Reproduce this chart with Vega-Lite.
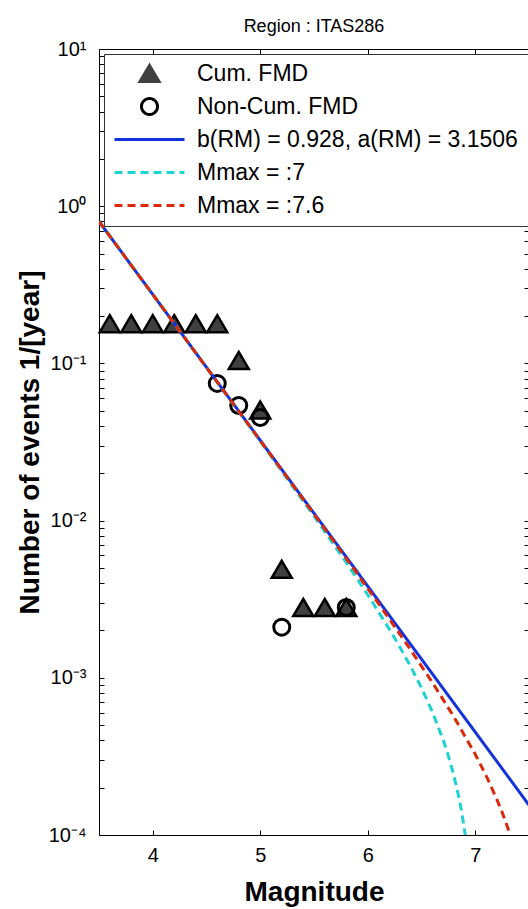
{
  "$schema": "https://vega.github.io/schema/vega-lite/v6.json",
  "width": 430,
  "height": 786,
  "autosize": {"type": "none"},
  "padding": {"left": 99, "top": 49, "right": 0, "bottom": 74},
  "background": "white",
  "title": {"text": "Region : ITAS286", "fontSize": 18, "font": "Liberation Sans", "fontWeight": "normal", "color": "black", "offset": 3, "anchor": "middle"},
  "config": {
    "font": "Liberation Sans",
    "view": {"stroke": "black", "strokeWidth": 1},
    "axis": {"domain": false, "grid": false, "tickColor": "black", "labelColor": "black", "titleColor": "black", "labelFont": "Liberation Sans", "labelFontSize": 20, "titleFont": "Liberation Sans", "titleFontSize": 28, "titleFontWeight": "bold", "tickSize": -5, "tickWidth": 1}
  },
  "datasets": {
    "cum": [
      {"magnitude": 3.6, "rate": 0.179}, {"magnitude": 3.8, "rate": 0.179}, {"magnitude": 4.0, "rate": 0.179},
      {"magnitude": 4.2, "rate": 0.179}, {"magnitude": 4.4, "rate": 0.179}, {"magnitude": 4.6, "rate": 0.179},
      {"magnitude": 4.8, "rate": 0.1045}, {"magnitude": 5.0, "rate": 0.0505}, {"magnitude": 5.2, "rate": 0.0049},
      {"magnitude": 5.4, "rate": 0.0028}, {"magnitude": 5.6, "rate": 0.0028}, {"magnitude": 5.8, "rate": 0.0028}
    ],
    "noncum": [
      {"magnitude": 4.6, "rate": 0.0746}, {"magnitude": 4.8, "rate": 0.054}, {"magnitude": 5.0, "rate": 0.0453},
      {"magnitude": 5.2, "rate": 0.0021}, {"magnitude": 5.8, "rate": 0.0028}
    ],
    "blue": [
      {"magnitude": 3.5, "rate": 0.7991, "series": "b(RM) = 0.928, a(RM) = 3.1506"},
      {"magnitude": 7.5, "rate": 0.0001551, "series": "b(RM) = 0.928, a(RM) = 3.1506"}
    ],
    "cyan": [
      {"magnitude": 3.5, "rate": 0.7988, "series": "Mmax = :7"},
      {"magnitude": 4.0, "rate": 0.2742, "series": "Mmax = :7"},
      {"magnitude": 4.5, "rate": 0.09389, "series": "Mmax = :7"},
      {"magnitude": 5.0, "rate": 0.03196, "series": "Mmax = :7"},
      {"magnitude": 5.5, "rate": 0.010684, "series": "Mmax = :7"},
      {"magnitude": 5.8, "rate": 0.005413, "series": "Mmax = :7"},
      {"magnitude": 6.0, "rate": 0.003374, "series": "Mmax = :7"},
      {"magnitude": 6.2, "rate": 0.002044, "series": "Mmax = :7"},
      {"magnitude": 6.3, "rate": 0.001564, "series": "Mmax = :7"},
      {"magnitude": 6.4, "rate": 0.001176, "series": "Mmax = :7"},
      {"magnitude": 6.5, "rate": 0.0008628, "series": "Mmax = :7"},
      {"magnitude": 6.6, "rate": 0.0006098, "series": "Mmax = :7"},
      {"magnitude": 6.7, "rate": 0.0004057, "series": "Mmax = :7"},
      {"magnitude": 6.75, "rate": 0.0003188, "series": "Mmax = :7"},
      {"magnitude": 6.8, "rate": 0.0002407, "series": "Mmax = :7"},
      {"magnitude": 6.85, "rate": 0.0001706, "series": "Mmax = :7"},
      {"magnitude": 6.875, "rate": 0.0001382, "series": "Mmax = :7"},
      {"magnitude": 6.9, "rate": 0.0001077, "series": "Mmax = :7"},
      {"magnitude": 6.91, "rate": 0.0000956, "series": "Mmax = :7"}
    ],
    "red": [
      {"magnitude": 3.5, "rate": 0.7992, "series": "Mmax = :7.6"},
      {"magnitude": 4.0, "rate": 0.2746, "series": "Mmax = :7.6"},
      {"magnitude": 4.5, "rate": 0.09422, "series": "Mmax = :7.6"},
      {"magnitude": 5.0, "rate": 0.03229, "series": "Mmax = :7.6"},
      {"magnitude": 5.5, "rate": 0.01101, "series": "Mmax = :7.6"},
      {"magnitude": 5.8, "rate": 0.005739, "series": "Mmax = :7.6"},
      {"magnitude": 6.0, "rate": 0.0037, "series": "Mmax = :7.6"},
      {"magnitude": 6.2, "rate": 0.002371, "series": "Mmax = :7.6"},
      {"magnitude": 6.4, "rate": 0.001502, "series": "Mmax = :7.6"},
      {"magnitude": 6.6, "rate": 0.0009362, "series": "Mmax = :7.6"},
      {"magnitude": 6.8, "rate": 0.000567, "series": "Mmax = :7.6"},
      {"magnitude": 7.0, "rate": 0.0003264, "series": "Mmax = :7.6"},
      {"magnitude": 7.1, "rate": 0.0002393, "series": "Mmax = :7.6"},
      {"magnitude": 7.2, "rate": 0.0001692, "series": "Mmax = :7.6"},
      {"magnitude": 7.25, "rate": 0.0001394, "series": "Mmax = :7.6"},
      {"magnitude": 7.3, "rate": 0.0001125, "series": "Mmax = :7.6"},
      {"magnitude": 7.35, "rate": 0.0000885, "series": "Mmax = :7.6"}
    ]
  },
  "layer": [
    {
      "data": {"name": "cum"},
      "mark": {"type": "point", "shape": "M0,-0.85L1,0.85L-1,0.85Z", "size": 400, "filled": true, "fill": "#404040", "stroke": "black", "strokeWidth": 2.5, "opacity": 1},
      "encoding": {
        "x": {"field": "magnitude", "type": "quantitative", "scale": {"domain": [3.5, 7.5], "nice": false, "zero": false},
          "axis": {"orient": "bottom", "values": [4, 5, 6, 7], "format": "d", "labelPadding": 15, "title": "Magnitude", "titleBaseline": "middle", "titleY": 57}},
        "y": {"field": "rate", "type": "quantitative", "scale": {"type": "log", "domain": [0.0001, 10], "nice": false},
          "axis": {"orient": "left", "labelPadding": 18,
            "values": [0.0001,0.0002,0.0003,0.0004,0.0005,0.0006,0.0007,0.0008,0.0009,0.001,0.002,0.003,0.004,0.005,0.006,0.007,0.008,0.009,0.01,0.02,0.03,0.04,0.05,0.06,0.07,0.08,0.09,0.1,0.2,0.3,0.4,0.5,0.6,0.7,0.8,0.9,1,2,3,4,5,6,7,8,9,10],
            "labelExpr": "datum.value == 10 ? '10¹' : datum.value == 1 ? '10⁰' : datum.value == 0.1 ? '10⁻¹' : datum.value == 0.01 ? '10⁻²' : datum.value == 0.001 ? '10⁻³' : datum.value == 0.0001 ? '10⁻⁴' : ''",
            "title": "Number of events 1/[year]", "titleX": -69, "titleY": 393, "titleAngle": 270, "titleBaseline": "middle", "titleAlign": "center"}}
      }
    },
    {
      "data": {"name": "noncum"},
      "mark": {"type": "point", "shape": "circle", "size": 256, "filled": false, "stroke": "black", "strokeWidth": 3, "opacity": 1},
      "encoding": {
        "x": {"field": "magnitude", "type": "quantitative", "axis": {"orient": "top", "values": [4, 5, 6, 7], "labels": false, "title": null}},
        "y": {"field": "rate", "type": "quantitative", "axis": {"orient": "right", "labels": false, "title": null,
            "values": [0.0001,0.0002,0.0003,0.0004,0.0005,0.0006,0.0007,0.0008,0.0009,0.001,0.002,0.003,0.004,0.005,0.006,0.007,0.008,0.009,0.01,0.02,0.03,0.04,0.05,0.06,0.07,0.08,0.09,0.1,0.2,0.3,0.4,0.5,0.6,0.7,0.8,0.9,1,2,3,4,5,6,7,8,9,10]}}
      }
    },
    {
      "data": {"name": "blue"},
      "mark": {"type": "line", "strokeWidth": 3, "clip": true},
      "encoding": {
        "x": {"field": "magnitude", "type": "quantitative", "axis": null},
        "y": {"field": "rate", "type": "quantitative", "axis": null},
        "color": {"field": "series", "type": "nominal",
          "scale": {"domain": ["Cum. FMD", "Non-Cum. FMD", "b(RM) = 0.928, a(RM) = 3.1506", "Mmax = :7", "Mmax = :7.6"], "range": ["#404040", "black", "#1432dc", "#1ed2d2", "#dc280a"]},
          "legend": {"orient": "none", "legendX": 5, "legendY": 5, "title": null, "direction": "vertical", "fillColor": "white", "strokeColor": "#333333", "padding": 8,
            "symbolSize": 400, "symbolStrokeWidth": 3, "symbolOffset": 26, "labelOffset": 36, "labelFontSize": 23, "labelFont": "Liberation Sans", "labelColor": "black", "labelLimit": 800, "rowPadding": 9, "clipHeight": 23,
            "labelExpr": "datum.value === 'b(RM) = 0.928, a(RM) = 3.1506' ? datum.label + '\u2800\u2800\u2800\u2800' : datum.label",
            "encode": {"symbols": {"update": {
              "shape": {"signal": "datum.value === 'Cum. FMD' ? 'M0,-0.8L0.95,0.8L-0.95,0.8Z' : datum.value === 'Non-Cum. FMD' ? 'M0.8,0A0.8,0.8,0,1,1,-0.8,0A0.8,0.8,0,1,1,0.8,0Z' : 'M-3.5,0L3.5,0'"},
              "fill": {"signal": "datum.value === 'Cum. FMD' ? '#404040' : 'transparent'"},
              "stroke": {"signal": "datum.value === 'Cum. FMD' || datum.value === 'Non-Cum. FMD' ? 'black' : datum.value === 'Mmax = :7' ? '#1ed2d2' : datum.value === 'Mmax = :7.6' ? '#dc280a' : '#1432dc'"},
              "strokeDash": {"signal": "datum.value === 'Mmax = :7' || datum.value === 'Mmax = :7.6' ? [8, 5] : [1, 0]"},
              "strokeWidth": {"value": 3},
              "opacity": {"value": 1}
            }}}}
        }
      }
    },
    {
      "data": {"name": "cyan"},
      "mark": {"type": "line", "strokeWidth": 3, "clip": true, "strokeDash": [8, 5]},
      "encoding": {
        "x": {"field": "magnitude", "type": "quantitative", "axis": null},
        "y": {"field": "rate", "type": "quantitative", "axis": null},
        "color": {"field": "series", "type": "nominal"}
      }
    },
    {
      "data": {"name": "red"},
      "mark": {"type": "line", "strokeWidth": 3, "clip": true, "strokeDash": [8, 5]},
      "encoding": {
        "x": {"field": "magnitude", "type": "quantitative", "axis": null},
        "y": {"field": "rate", "type": "quantitative", "axis": null},
        "color": {"field": "series", "type": "nominal"}
      }
    }
  ],
  "resolve": {"axis": {"x": "independent", "y": "independent"}}
}
